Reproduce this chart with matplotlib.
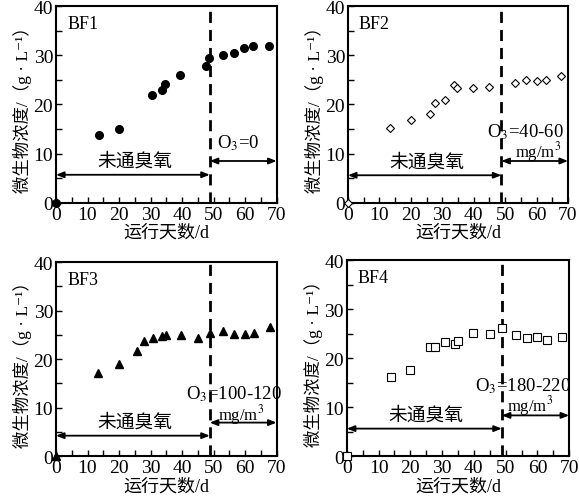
import matplotlib
matplotlib.use('Agg')
import matplotlib.pyplot as plt
from matplotlib.ticker import MultipleLocator

plt.rcParams['font.family'] = ['Liberation Serif', 'Noto Sans CJK SC', 'DejaVu Serif']
plt.rcParams['mathtext.fontset'] = 'stix'

# 数据
bf1_x = [0, 13.5, 20, 30.5, 33.5, 34.5, 39.5, 47.5, 48.5, 53, 56.5, 59.7, 62.5, 67.5]
bf1_y = [0, 13.8, 15.1, 21.9, 23.0, 24.2, 26.0, 27.9, 29.5, 30.1, 30.4, 31.4, 31.9, 31.9]

bf2_x = [0, 13.5, 20, 26, 27.6, 30.8, 33.7, 34.8, 39.8, 44.9, 53.2, 56.7, 60, 62.9, 67.9]
bf2_y = [0, 15.2, 16.8, 18.0, 20.3, 20.8, 23.9, 23.3, 23.3, 23.6, 24.4, 25.0, 24.7, 25.0, 25.8]

bf3_x = [0, 13.4, 19.9, 25.8, 27.8, 30.9, 33.7, 35, 39.7, 45, 48.9, 53.1, 56.6, 60.1, 62.9, 67.9]
bf3_y = [0, 17.2, 19.0, 21.6, 23.8, 24.3, 24.7, 25.0, 24.9, 24.3, 25.4, 25.9, 25.2, 25.2, 25.4, 26.7]

bf4_x = [0, 13.9, 20, 26.1, 27.9, 31, 34.1, 35, 39.7, 45.2, 49, 53.2, 56.8, 59.8, 62.9, 67.9]
bf4_y = [0, 16.1, 17.6, 22.3, 22.3, 23.2, 22.8, 23.4, 25.2, 24.9, 26.2, 24.7, 24.1, 24.3, 23.7, 24.3]

names = ['BF1', 'BF2', 'BF3', 'BF4']
o3_labels = ['O$_3$=0', 'O$_3$=40-60', 'O$_3$=100-120', 'O$_3$=180-220']
split_day = 48.8

fig = plt.figure(figsize=(5.79, 5.02), dpi=100)
rects = [
    [0.0967, 0.594, 0.381, 0.392],
    [0.601, 0.594, 0.380, 0.392],
    [0.0967, 0.0896, 0.381, 0.386],
    [0.599, 0.0896, 0.384, 0.390],
]
series = [(bf1_x, bf1_y), (bf2_x, bf2_y), (bf3_x, bf3_y), (bf4_x, bf4_y)]
markers = [
    dict(marker='o', mfc='black', mec='black', ms=5.5),
    dict(marker='D', mfc='white', mec='black', ms=4.5, mew=0.8),
    dict(marker='^', mfc='black', mec='black', ms=6),
    dict(marker='s', mfc='white', mec='black', ms=5.5, mew=0.8),
]
# 箭头高度 (左, 右) 与文字位置
arrow_y = [(5.7, 8.5), (5.6, 8.5), (4.2, 6.9), (5.6, 8.3)]
o3_pos = [(58, 12.3), (56.5, 14.6), (56.5, 12.9), (55.5, 14.5)]
unit_pos = [None, (60.5, 10.5), (58.7, 8.7), (57.6, 10.4)]

for i, ax_rect in enumerate(rects):
    ax = fig.add_axes(ax_rect)
    x, y = series[i]
    ax.plot(x, y, ls='none', clip_on=False, zorder=5, **markers[i])
    ax.set_xlim(0, 70)
    ax.set_ylim(0, 40)
    ax.xaxis.set_major_locator(MultipleLocator(10))
    ax.xaxis.set_minor_locator(MultipleLocator(5))
    ax.yaxis.set_major_locator(MultipleLocator(10))
    ax.yaxis.set_minor_locator(MultipleLocator(5))
    ax.tick_params(which='both', direction='in', labelsize=14, pad=2, width=1)
    ax.tick_params(which='major', length=4)
    ax.tick_params(which='minor', length=4)
    for sp in ax.spines.values():
        sp.set_linewidth(1.5)

    ax.axvline(split_day, color='black', lw=2, ls=(0, (4, 2.5)))

    ly, ry = arrow_y[i]
    ax.annotate('', xy=(0, ly), xytext=(split_day, ly),
                arrowprops=dict(arrowstyle='<|-|>,head_length=0.45,head_width=0.18',
                                color='black', lw=1.3, shrinkA=0, shrinkB=0))
    ax.annotate('', xy=(split_day, ry), xytext=(70, ry),
                arrowprops=dict(arrowstyle='<|-|>,head_length=0.45,head_width=0.18',
                                color='black', lw=1.3, shrinkA=0, shrinkB=0))

    ax.text(25, ly + 2.8, '未通臭氧', ha='center', va='center', fontsize=13.5)
    ax.text(o3_pos[i][0], o3_pos[i][1], o3_labels[i], ha='center', va='center', fontsize=13.5)
    if unit_pos[i] is not None:
        ax.text(unit_pos[i][0], unit_pos[i][1], 'mg/m$^3$', ha='center', va='center', fontsize=12)
    ax.text(3.5, 36.5, names[i], ha='left', va='center', fontsize=13)

    ax.set_xlabel('运行天数/d', fontsize=13, labelpad=1)
    ax.set_ylabel('微生物浓度/（g · L⁻¹）', fontsize=12.5, labelpad=1)

fig.savefig('out.png', dpi=100)
